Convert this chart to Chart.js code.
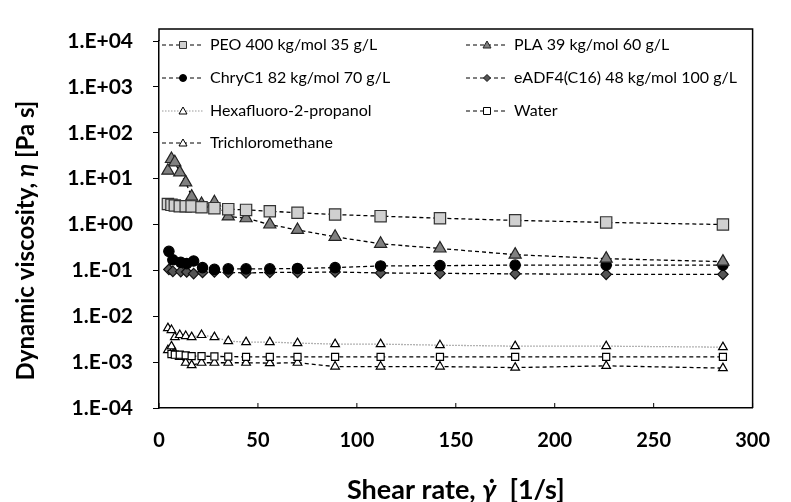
<!DOCTYPE html>
<html>
<head>
<meta charset="utf-8">
<script src="https://cdn.jsdelivr.net/npm/chart.js@4.4.1/dist/chart.umd.min.js"></script>
<style>
  html, body { margin: 0; padding: 0; background: #fff; }
  #wrap { width: 791px; height: 502px; }
</style>
</head>
<body>
<div id="wrap"><canvas id="visc"></canvas></div>
<script>
// shear rates [1/s]
const rateA = [4.5, 6.3, 8, 10.5, 13.5, 16.5, 21.5, 28, 35, 44, 56, 70, 89, 112, 142, 180, 226, 285];
const rateB = [5, 7, 11, 14, 17.5, 22, 28, 35, 44, 56, 70, 89, 112, 142, 180, 226, 285];
const rateW = [6.3, 8, 10.5, 13.5, 16.5, 21.5, 28, 35, 44, 56, 70, 89, 112, 142, 180, 226, 285];

// dynamic viscosity [Pa s]
const peo   = [2.8, 2.68, 2.6, 2.5, 2.5, 2.48, 2.38, 2.27, 2.16, 2.08, 1.95, 1.8, 1.65, 1.52, 1.37, 1.23, 1.11, 1.0];
const pla   = [14.9, 26.8, 22.7, 13.7, 8.3, 4.05, 2.8, 3.05, 1.5, 1.37, 1.0, 0.76, 0.54, 0.38, 0.3, 0.22, 0.18, 0.155];
const chry  = [0.26, 0.17, 0.15, 0.14, 0.16, 0.115, 0.105, 0.108, 0.108, 0.108, 0.11, 0.115, 0.125, 0.127, 0.13, 0.13, 0.13];
const eadf  = [0.105, 0.095, 0.094, 0.092, 0.085, 0.09, 0.092, 0.09, 0.088, 0.09, 0.09, 0.092, 0.088, 0.086, 0.084, 0.082, 0.082];
const hfip  = [5.5e-3, 5.0e-3, 3.5e-3, 3.9e-3, 3.7e-3, 3.5e-3, 3.9e-3, 3.5e-3, 2.87e-3, 2.73e-3, 2.73e-3, 2.6e-3, 2.47e-3, 2.47e-3, 2.34e-3, 2.23e-3, 2.23e-3, 2.12e-3];
const water = [1.5e-3, 1.45e-3, 1.45e-3, 1.4e-3, 1.35e-3, 1.35e-3, 1.33e-3, 1.32e-3, 1.3e-3, 1.3e-3, 1.3e-3, 1.3e-3, 1.3e-3, 1.3e-3, 1.3e-3, 1.3e-3, 1.3e-3];
const tcm   = [1.83e-3, 2.2e-3, 1.57e-3, 1.3e-3, 0.97e-3, 0.86e-3, 0.97e-3, 0.97e-3, 0.97e-3, 0.97e-3, 0.95e-3, 0.97e-3, 0.8e-3, 0.8e-3, 0.8e-3, 0.76e-3, 0.83e-3, 0.74e-3];

const seriesNames = [
  'PEO 400 kg/mol 35 g/L', 'PLA 39 kg/mol 60 g/L',
  'ChryC1 82 kg/mol 70 g/L', 'eADF4(C16) 48 kg/mol 100 g/L',
  'Hexafluoro-2-propanol', 'Water',
  'Trichloromethane'
];

const rateTicks = [0, 50, 100, 150, 200, 250, 300];
const viscTicks = [1e-4, 1e-3, 1e-2, 1e-1, 1e0, 1e1, 1e2, 1e3, 1e4];

const FONT = 'Lato, "Open Sans", sans-serif';
const DASH = [4, 3];

const pts = (xs, ys) => ys.map((y, i) => ({ x: xs[i], y: y }));

function series(i, xs, ys, style) {
  return Object.assign({
    label: seriesNames[i],
    data: pts(xs, ys),
    borderColor: '#000',
    borderWidth: 1.3,
    borderDash: DASH,
    pointBorderColor: '#000',
    pointBorderWidth: 1.2,
    showLine: true,
    tension: 0
  }, style);
}

const datasets = [
  series(0, rateA, peo,   { pointStyle: 'rect',     pointRadius: 8,   pointBackgroundColor: '#d0d0d0', pointBorderColor: '#333' }),
  series(1, rateA, pla,   { pointStyle: 'triangle', pointRadius: 7,   pointBackgroundColor: '#808080', pointBorderColor: '#222' }),
  series(2, rateB, chry,  { pointStyle: 'circle',   pointRadius: 5.2, pointBackgroundColor: '#000' }),
  series(3, rateB, eadf,  { pointStyle: 'rectRot',  pointRadius: 5.2, pointBackgroundColor: '#555', pointBorderColor: '#111' }),
  series(4, rateA, hfip,  { pointStyle: 'triangle', pointRadius: 5,   pointBackgroundColor: '#fff', borderColor: '#999', borderDash: [1.5, 1.5] }),
  series(5, rateW, water, { pointStyle: 'rect',     pointRadius: 5,   pointBackgroundColor: '#fff' }),
  series(6, rateA, tcm,   { pointStyle: 'triangle', pointRadius: 5,   pointBackgroundColor: '#fff' })
];

function expLabel(v) {
  const e = Math.round(Math.log10(v));
  return '1.E' + (e < 0 ? '-' : '+') + String(Math.abs(e)).padStart(2, '0');
}

// little marker for the legend rows
function legendMarker(ctx, ds, x, y) {
  ctx.save();
  ctx.fillStyle = ds.pointBackgroundColor;
  ctx.strokeStyle = ds.pointBorderColor;
  ctx.lineWidth = 1;
  ctx.beginPath();
  const r = 3.5;
  switch (ds.pointStyle) {
    case 'rect': ctx.rect(x - r, y - r, 2 * r, 2 * r); break;
    case 'triangle':
      ctx.moveTo(x, y - r - 0.5); ctx.lineTo(x + r + 0.5, y + r - 0.5); ctx.lineTo(x - r - 0.5, y + r - 0.5); ctx.closePath(); break;
    case 'circle': ctx.arc(x, y, r, 0, Math.PI * 2); break;
    case 'rectRot':
      ctx.moveTo(x, y - r); ctx.lineTo(x + r, y); ctx.lineTo(x, y + r); ctx.lineTo(x - r, y); ctx.closePath(); break;
  }
  ctx.fill();
  ctx.stroke();
  ctx.restore();
}

// text made of mixed-style pieces, centred on (cx, cy)
function drawRun(ctx, parts, cx, cy, vertical) {
  let total = 0;
  parts.forEach(p => { ctx.font = p[1] + FONT; total += ctx.measureText(p[0]).width; });
  ctx.save();
  ctx.translate(cx, cy);
  if (vertical) ctx.rotate(-Math.PI / 2);
  ctx.textBaseline = 'middle';
  ctx.fillStyle = '#000';
  let x = -total / 2;
  parts.forEach(p => {
    ctx.font = p[1] + FONT;
    ctx.fillText(p[0], x, 0);
    x += ctx.measureText(p[0]).width;
  });
  ctx.restore();
}

const FRAME_TOP = 29;

const decor = {
  id: 'decor',
  afterDraw(chart) {
    const { ctx, chartArea: a, scales } = chart;
    ctx.save();

    // frame: left stub above the axis, top and right
    ctx.strokeStyle = '#000';
    ctx.lineWidth = 1.5;
    ctx.beginPath();
    ctx.moveTo(a.left, a.top);
    ctx.lineTo(a.left, FRAME_TOP);
    ctx.lineTo(a.right, FRAME_TOP);
    ctx.lineTo(a.right, a.bottom);
    ctx.stroke();

    // inward ticks on the rate axis
    ctx.lineWidth = 1;
    rateTicks.forEach(t => {
      const x = scales.x.getPixelForValue(t);
      ctx.beginPath();
      ctx.moveTo(x, a.bottom);
      ctx.lineTo(x, a.bottom - 5);
      ctx.stroke();
    });

    // legend, two columns
    const rowY = [45, 78, 111, 143];
    const colX = [162, 466];
    ctx.font = '16px ' + FONT;
    ctx.textBaseline = 'middle';
    chart.data.datasets.forEach((ds, i) => {
      const x = colX[i % 2], y = rowY[Math.floor(i / 2)];
      ctx.save();
      ctx.strokeStyle = ds.borderColor;
      ctx.lineWidth = 1;
      ctx.setLineDash(ds.borderDash);
      ctx.beginPath();
      ctx.moveTo(x, y);
      ctx.lineTo(x + 42, y);
      ctx.stroke();
      ctx.restore();
      legendMarker(ctx, ds, x + 21, y);
      ctx.fillStyle = '#000';
      ctx.textAlign = 'left';
      ctx.fillText(ds.label, x + 48, y);
    });

    // axis titles
    const xParts = [['Shear rate, ', 'bold 27px '], ['\u03B3\u0307', 'italic bold 27px '], ['  [1/s]', 'bold 27px ']];
    drawRun(ctx, xParts, (a.left + a.right) / 2, 490, false);
    const yParts = [['Dynamic viscosity, ', 'bold 24px '], ['\u03B7', 'italic bold 24px '], [' [Pa s]', 'bold 24px ']];
    drawRun(ctx, yParts, 26, (a.top + a.bottom) / 2 + 16, true);

    ctx.restore();
  }
};

new Chart(document.getElementById('visc'), {
  type: 'scatter',
  data: { datasets: datasets },
  options: {
    responsive: true,
    maintainAspectRatio: false,
    animation: false,
    layout: { padding: { top: 41, right: 15, left: 0, bottom: 0 } },
    plugins: {
      legend: { display: false },
      tooltip: { enabled: false }
    },
    scales: {
      x: {
        type: 'linear',
        min: 0,
        max: 300,
        afterBuildTicks: s => { s.ticks = rateTicks.map(v => ({ value: v })); },
        afterFit: s => { s.height = 94; },
        grid: { display: false, drawTicks: false },
        border: { display: true, color: '#000', width: 1.5 },
        ticks: { color: '#000', padding: 21, font: { family: FONT, size: 20, weight: 'bold' } }
      },
      y: {
        type: 'logarithmic',
        min: 1e-4,
        max: 1e4,
        afterBuildTicks: s => { s.ticks = viscTicks.map(v => ({ value: v })); },
        afterFit: s => { s.width = 159; },
        grid: { display: true, drawOnChartArea: false, drawTicks: true, tickLength: 6, color: '#000' },
        border: { display: true, color: '#000', width: 1.5 },
        ticks: { color: '#000', padding: 20, font: { family: FONT, size: 21, weight: 'bold' }, callback: v => expLabel(v) }
      }
    }
  },
  plugins: [decor]
});
</script>
</body>
</html>
